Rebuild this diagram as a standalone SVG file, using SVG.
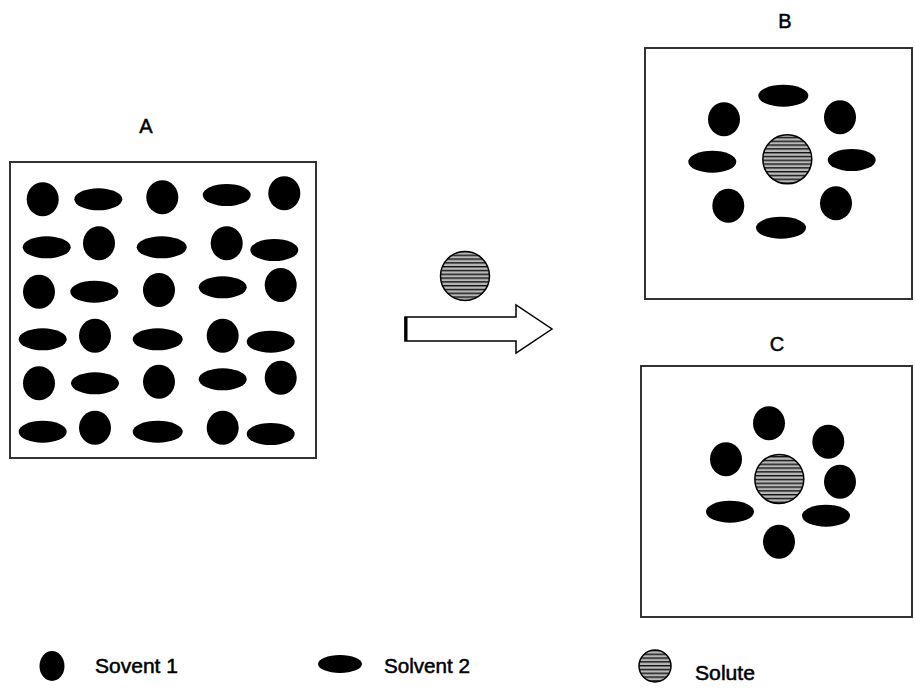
<svg xmlns="http://www.w3.org/2000/svg" width="915" height="694" viewBox="0 0 915 694">
<defs>
<pattern id="stripes" patternUnits="userSpaceOnUse" x="0" y="0" width="8" height="3.8">
<rect x="0" y="0" width="8" height="3.8" fill="#b8b8b8"/>
<rect x="0" y="0" width="8" height="1.4" fill="#111"/>
</pattern>
</defs>
<style>
.box{fill:#fff;stroke:#333;stroke-width:2}
.s1,.s2{fill:#000}
.sol{fill:url(#stripes);stroke:#000;stroke-width:1.5}
.lbl{font-family:"Liberation Sans",Arial,sans-serif;font-size:20px;fill:#000;stroke:#000;stroke-width:0.5;text-anchor:middle}
.leg{font-family:"Liberation Sans",Arial,sans-serif;font-size:20px;fill:#000;stroke:#000;stroke-width:0.5}
</style>
<rect width="915" height="694" fill="#fff"/>

<g id="panelA">
<text class="lbl" x="146" y="133">A</text>
<rect class="box" x="10" y="162" width="306" height="296"/>
<ellipse class="s1" cx="42.7" cy="199.3" rx="16" ry="17"/>
<ellipse class="s2" cx="98.3" cy="199.3" rx="24" ry="11"/>
<ellipse class="s1" cx="162.3" cy="197.3" rx="16" ry="17"/>
<ellipse class="s2" cx="226.7" cy="195" rx="24" ry="11"/>
<ellipse class="s1" cx="284.3" cy="193.3" rx="16" ry="17"/>

<ellipse class="s2" cx="46.7" cy="247.3" rx="24" ry="11"/>
<ellipse class="s1" cx="99" cy="243.3" rx="16" ry="17"/>
<ellipse class="s2" cx="161.7" cy="247.3" rx="25" ry="11"/>
<ellipse class="s1" cx="226.7" cy="243.3" rx="16" ry="17"/>
<ellipse class="s2" cx="274.3" cy="250" rx="24" ry="11"/>

<ellipse class="s1" cx="39" cy="291.7" rx="16" ry="17"/>
<ellipse class="s2" cx="94.3" cy="291.7" rx="24" ry="11"/>
<ellipse class="s1" cx="159" cy="290" rx="16" ry="17"/>
<ellipse class="s2" cx="222.7" cy="287.3" rx="24" ry="11"/>
<ellipse class="s1" cx="280.7" cy="285" rx="16" ry="17"/>

<ellipse class="s2" cx="42.7" cy="339.3" rx="24" ry="11"/>
<ellipse class="s1" cx="95" cy="335.7" rx="16" ry="17"/>
<ellipse class="s2" cx="157.7" cy="339.3" rx="25" ry="11"/>
<ellipse class="s1" cx="222.7" cy="335.7" rx="16" ry="17"/>
<ellipse class="s2" cx="270.7" cy="341.7" rx="24" ry="11"/>

<ellipse class="s1" cx="39" cy="383.3" rx="16" ry="17"/>
<ellipse class="s2" cx="95" cy="383.3" rx="24" ry="11"/>
<ellipse class="s1" cx="159" cy="381.7" rx="16" ry="17"/>
<ellipse class="s2" cx="222.7" cy="379.3" rx="24" ry="11"/>
<ellipse class="s1" cx="280.7" cy="377.7" rx="16" ry="17"/>

<ellipse class="s2" cx="42.7" cy="431.7" rx="24" ry="11"/>
<ellipse class="s1" cx="95" cy="427.7" rx="16" ry="17"/>
<ellipse class="s2" cx="157.7" cy="431.7" rx="25" ry="11"/>
<ellipse class="s1" cx="222.7" cy="427.7" rx="16" ry="17"/>
<ellipse class="s2" cx="270.7" cy="434" rx="24" ry="11"/>
</g>

<g id="panelB">
<text class="lbl" x="785" y="28">B</text>
<rect class="box" x="645" y="48" width="267" height="251"/>
<ellipse class="s2" cx="783.3" cy="95.7" rx="25" ry="11"/>
<ellipse class="s1" cx="724" cy="119.3" rx="16" ry="17"/>
<ellipse class="s1" cx="840" cy="117.3" rx="16" ry="17"/>
<ellipse class="s2" cx="712.3" cy="161.7" rx="24" ry="11"/>
<circle class="sol" cx="787.3" cy="159.3" r="24.5"/>
<ellipse class="s2" cx="851.7" cy="160" rx="24" ry="11"/>
<ellipse class="s1" cx="728.3" cy="205.7" rx="16" ry="17"/>
<ellipse class="s1" cx="836" cy="203.3" rx="16" ry="17"/>
<ellipse class="s2" cx="781" cy="227.7" rx="25" ry="11"/>
</g>

<g id="panelC">
<text class="lbl" x="777" y="351">C</text>
<rect class="box" x="641" y="366" width="271" height="251"/>
<ellipse class="s1" cx="769" cy="423.3" rx="16" ry="17"/>
<ellipse class="s1" cx="828.3" cy="441.7" rx="16" ry="17"/>
<ellipse class="s1" cx="726" cy="459.3" rx="16" ry="17"/>
<circle class="sol" cx="779.3" cy="479" r="24.5"/>
<ellipse class="s1" cx="840" cy="481.7" rx="16" ry="17"/>
<ellipse class="s2" cx="730" cy="511.7" rx="24" ry="11"/>
<ellipse class="s2" cx="826" cy="515.7" rx="24" ry="11"/>
<ellipse class="s1" cx="779" cy="541.7" rx="16" ry="17"/>
</g>

<g id="soluteAdded">
<circle class="sol" cx="465" cy="276" r="24.5"/>
</g>

<g id="connectors">
<polygon points="405,317 516,317 516,305 552,329 516,353 516,341 405,341" fill="#fff" stroke="#000" stroke-width="1.5" stroke-linejoin="miter"/>
<line x1="406" y1="317" x2="406" y2="341" stroke="#000" stroke-width="3"/>
</g>

<g id="legend">
<ellipse class="s1" cx="52" cy="666" rx="12.5" ry="15"/>
<text class="leg" x="95" y="673" textLength="83" lengthAdjust="spacingAndGlyphs">Sovent 1</text>
<ellipse class="s2" cx="340" cy="664" rx="22" ry="9"/>
<text class="leg" x="384" y="673" textLength="86" lengthAdjust="spacingAndGlyphs">Solvent 2</text>
<circle class="sol" cx="655" cy="666" r="16"/>
<text class="leg" x="695" y="680" textLength="60" lengthAdjust="spacingAndGlyphs">Solute</text>
</g>
</svg>
